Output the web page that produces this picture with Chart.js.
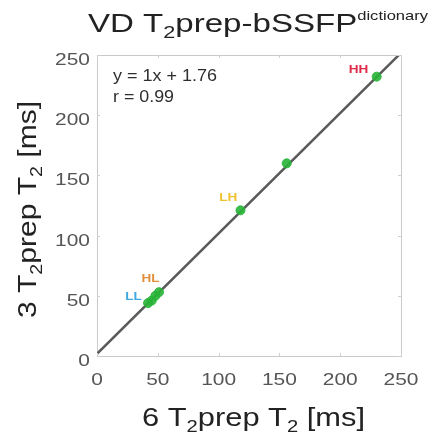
<!DOCTYPE html>
<html>
<head>
<meta charset="utf-8">
<script src="https://cdn.jsdelivr.net/npm/chart.js@4/dist/chart.umd.min.js"></script>
<style>
html,body{margin:0;padding:0;background:#fff;}
#wrap{width:434px;height:441px;position:relative;}
</style>
</head>
<body>
<div id="wrap"><canvas id="scatterChart" width="434" height="441"></canvas></div>
<script>
// ------------------------------------------
// VD T2prep-bSSFP dictionary : 6 vs 3 T2prep
// ------------------------------------------

// measured points (x = 6 T2prep, y = 3 T2prep) [ms]
const xVals=[42,45,48,51,118,156,230];
const yVals=[44,46,50,53,121,160,232];

// fit line
const slope=1;
const intercept=1.76;
const rValue=0.99;

// axis ticks
const tickVals=[0,50,100,150,200,250];

// phantom labels
const tagNames=["LL","HL","LH","HH"];
const tagX=[30,44,108,215];
const tagY=[50,65,132,238];
const tagColors=["#3fa9e0","#e0903c","#f2c12e","#e02a4a"];

const FONT="'Liberation Sans', Arial, Helvetica, sans-serif";
const STRETCH=1.23; // reference is drawn a bit wide

const points=xVals.map((x,i)=>({x:x,y:yVals[i]}));
const fitLine=[
  {x:tickVals[0],y:slope*tickVals[0]+intercept},
  {x:tickVals[tickVals.length-1],y:slope*tickVals[tickVals.length-1]+intercept}
];

// draw text parts, stretched horizontally to a target width
function drawRich(ctx,parts,x,y,target,align){
  let natural=0;
  parts.forEach(p=>{
    ctx.font=(p.bold?"bold ":"")+p.size+"px "+FONT;
    p.w=ctx.measureText(p.t).width;
    natural+=p.w;
  });
  let k=target?target/natural:STRETCH;
  let total=natural*k;
  let sx=x;
  if(align==="center")sx=x-total/2;
  if(align==="right")sx=x-total;
  ctx.save();
  ctx.translate(sx,y);
  ctx.scale(k,1);
  ctx.textAlign="left";
  ctx.textBaseline="alphabetic";
  let cx=0;
  parts.forEach(p=>{
    ctx.font=(p.bold?"bold ":"")+p.size+"px "+FONT;
    ctx.fillText(p.t,cx,p.dy||0);
    cx+=p.w;
  });
  ctx.restore();
}

const decorPlugin={
  id:"decor",
  afterDraw(chart){
    const ctx=chart.ctx;
    const a=chart.chartArea;
    const xs=chart.scales.x, ys=chart.scales.y;
    ctx.save();

    // box top/right
    ctx.strokeStyle="#c9c9c9";
    ctx.lineWidth=1;
    ctx.beginPath();
    ctx.moveTo(a.left,a.top+0.5);ctx.lineTo(a.right+0.5,a.top+0.5);ctx.lineTo(a.right+0.5,a.bottom);
    ctx.stroke();

    // inward tick marks
    ctx.strokeStyle="#d0d0d0";
    ctx.beginPath();
    tickVals.forEach(v=>{
      let px=Math.round(xs.getPixelForValue(v))+0.5;
      ctx.moveTo(px,a.bottom);ctx.lineTo(px,a.bottom-3);
      ctx.moveTo(px,a.top);ctx.lineTo(px,a.top+3);
      let py=Math.round(ys.getPixelForValue(v))+0.5;
      ctx.moveTo(a.left,py);ctx.lineTo(a.left+3,py);
      ctx.moveTo(a.right,py);ctx.lineTo(a.right-3,py);
    });
    ctx.stroke();

    // tick labels
    ctx.fillStyle="#555";
    tickVals.forEach(v=>{
      drawRich(ctx,[{t:String(v),size:17}],xs.getPixelForValue(v),385,0,"center");
      drawRich(ctx,[{t:String(v),size:17}],90,ys.getPixelForValue(v)+10,0,"right");
    });

    // phantom tags
    tagNames.forEach((t,i)=>{
      ctx.fillStyle=tagColors[i];
      drawRich(ctx,[{t:t,size:11,bold:true}],xs.getPixelForValue(tagX[i]),ys.getPixelForValue(tagY[i])+4,0,"center");
    });

    // fit text
    ctx.fillStyle="#2e2e2e";
    drawRich(ctx,[{t:"y = "+slope+"x + "+intercept,size:16}],113,81,104);
    drawRich(ctx,[{t:"r = "+rValue.toFixed(2),size:16}],113,102,61);

    // title
    ctx.fillStyle="#222";
    drawRich(ctx,[
      {t:"VD T",size:26},
      {t:"2",size:17,dy:6},
      {t:"prep-bSSFP",size:26},
      {t:"dictionary",size:13,dy:-12}
    ],88,32,340);

    // x title
    drawRich(ctx,[
      {t:"6 T",size:26},
      {t:"2",size:17,dy:6},
      {t:"prep T",size:26},
      {t:"2",size:17,dy:6},
      {t:" [ms]",size:26}
    ],142,426,223);

    // y title
    ctx.translate(36,318);
    ctx.rotate(-Math.PI/2);
    drawRich(ctx,[
      {t:"3 T",size:26},
      {t:"2",size:17,dy:6},
      {t:"prep T",size:26},
      {t:"2",size:17,dy:6},
      {t:" [ms]",size:26}
    ],0,0,217);
    ctx.restore();
  }
};

new Chart(document.getElementById("scatterChart"),{
  type:"scatter",
  data:{
    datasets:[
      {
        label:"fit",
        type:"line",
        data:fitLine,
        borderColor:"#5a5a5a",
        borderWidth:2.5,
        pointRadius:0,
        fill:false,
        order:2
      },
      {
        label:"T2",
        data:points,
        backgroundColor:"rgba(40,180,55,0.9)",
        borderColor:"rgba(40,180,55,0.9)",
        pointRadius:4.5,
        order:1
      }
    ]
  },
  options:{
    responsive:false,
    animation:false,
    layout:{padding:{top:55,right:33,left:0,bottom:0}},
    plugins:{legend:{display:false},tooltip:{enabled:false},title:{display:false}},
    scales:{
      x:{
        type:"linear",
        min:0,max:250,
        afterBuildTicks(s){s.ticks=tickVals.map(v=>({value:v}));},
        afterFit(s){s.height=85;},
        grid:{display:true,drawOnChartArea:false,drawTicks:false},
        border:{color:"#c9c9c9",width:1},
        ticks:{display:false}
      },
      y:{
        type:"linear",
        min:0,max:250,
        afterBuildTicks(s){s.ticks=tickVals.map(v=>({value:v}));},
        afterFit(s){s.width=97;},
        grid:{display:true,drawOnChartArea:false,drawTicks:false},
        border:{color:"#c9c9c9",width:1},
        ticks:{display:false}
      }
    }
  },
  plugins:[decorPlugin]
});
</script>
</body>
</html>
